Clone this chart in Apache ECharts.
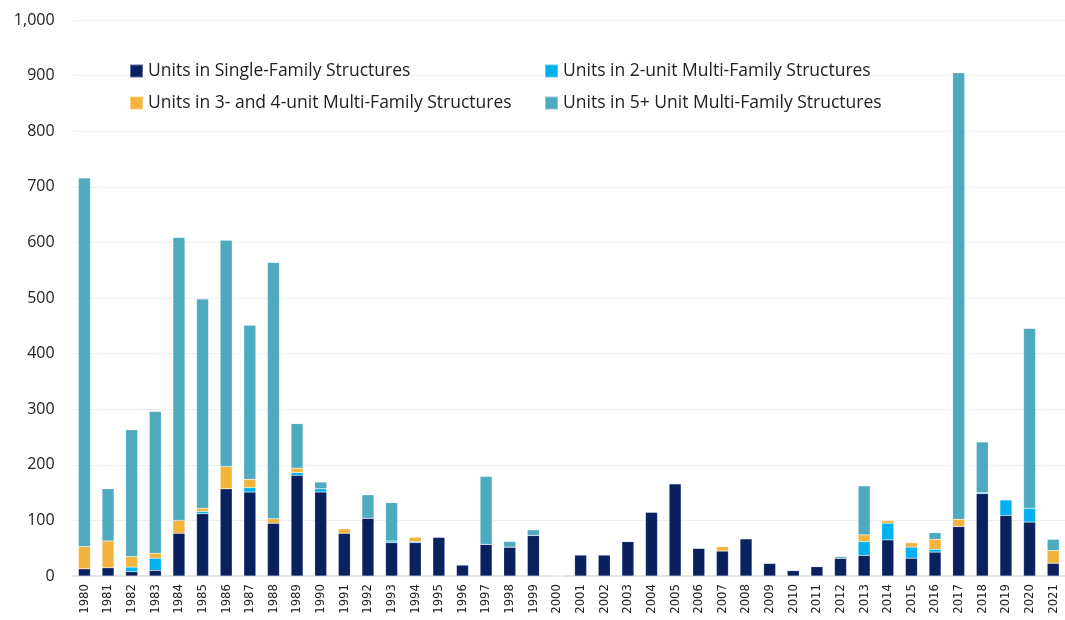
<!DOCTYPE html>
<html><head><meta charset="utf-8">
<script src="https://cdn.jsdelivr.net/npm/echarts@6/dist/echarts.min.js"></script>
<style>html,body{margin:0;padding:0;background:#fff}#c{width:1065px;height:620px}</style>
</head><body><div id="c"></div>
<script>
const years = ['1980','1981','1982','1983','1984','1985','1986','1987','1988','1989','1990','1991','1992','1993','1994','1995','1996','1997','1998','1999','2000','2001','2002','2003','2004','2005','2006','2007','2008','2009','2010','2011','2012','2013','2014','2015','2016','2017','2018','2019','2020','2021'];
const singleFamily = [13,15,8,10,77,112,157,151,95,181,151,77,104,60,60,70,20,57,52,73,0,38,38,62,115,166,50,45,67,23,10,17,32,37,65,32,43,89,148,109,97,23];
const twoUnit =      [0,0,8,22,0,4,0,8,0,5,6,0,0,3,2,0,0,0,0,0,0,0,0,0,0,0,0,0,0,0,0,0,0,25,30,20,5,0,2,28,25,0];
const threeFourUnit =[40,48,19,9,23,6,40,15,8,8,0,8,0,0,8,0,0,0,0,0,0,0,0,0,0,0,0,8,0,0,0,0,0,12,5,8,18,13,0,0,0,23];
const fivePlus =     [663,94,228,255,509,376,407,277,461,80,12,0,42,69,0,0,0,122,10,10,0,0,0,0,0,0,0,0,0,0,0,0,3,88,0,0,12,803,91,0,323,20];
const seriesNames = ['Units in Single-Family Structures','Units in 2-unit Multi-Family Structures','Units in 3- and 4-unit Multi-Family Structures','Units in 5+ Unit Multi-Family Structures'];
const colors = ['#0a2160','#00b0ef','#f3b43d','#4eaabe'];
const yTicks = {min:0,max:1000,interval:100};

const chart = echarts.init(document.getElementById('c'));
const font = '"Open Sans", "Noto Sans", sans-serif';
const datasets = [singleFamily, twoUnit, threeFourUnit, fivePlus];
const legendText = {fontSize:17.5,color:'#222',fontFamily:font};
chart.setOption({
  animation:false,
  color: colors,
  textStyle:{fontFamily:font},
  legend:[
    {data:[seriesNames[0],seriesNames[2]],orient:'vertical',left:124,top:57,itemWidth:13,itemHeight:13,itemGap:14,icon:'rect',textStyle:legendText},
    {data:[seriesNames[1],seriesNames[3]],orient:'vertical',left:539,top:57,itemWidth:13,itemHeight:13,itemGap:14,icon:'rect',textStyle:legendText}
  ],
  grid:{left:72.6,top:20,bottom:44,width:997,containLabel:false},
  xAxis:{type:'category',data:years,
    axisLine:{lineStyle:{color:'#d9d9d9',width:1.5}},axisTick:{show:false},
    axisLabel:{rotate:90,fontSize:13,color:'#222',margin:8,interval:0,fontFamily:'"Liberation Sans Narrow","DejaVu Sans Condensed",sans-serif'}},
  yAxis:{type:'value',min:yTicks.min,max:yTicks.max,interval:yTicks.interval,
    axisLine:{show:false},axisTick:{show:false},
    splitLine:{lineStyle:{color:'#efefef'}},
    axisLabel:{fontSize:16,color:'#222',margin:18,formatter:v=>v.toLocaleString('en-US')}},
  series: datasets.map((d,i)=>({name:seriesNames[i],type:'bar',stack:'t',data:d,barWidth:12,
    itemStyle:{color:colors[i],borderColor:'rgba(255,255,255,0.35)',borderWidth:0.5}}))
});
</script></body></html>
